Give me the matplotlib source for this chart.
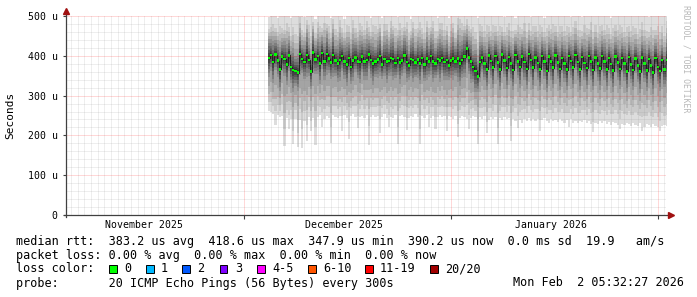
import numpy as np
import matplotlib.pyplot as plt
import matplotlib.dates as mdates
import matplotlib.transforms as mtransforms
from matplotlib.patches import Rectangle
from datetime import datetime, timedelta

# time range of the graph (90 days up to the moment it was drawn)
t_end = datetime(2026, 2, 2, 5, 32, 27)
t_begin = t_end - timedelta(days=90)
t_first = datetime(2025, 12, 4, 12, 0)   # first sample with data
step_hours = 8

# median rtt per step (microseconds)
rtt_median = [
    395, 402, 384, 403, 388, 366, 398, 392, 378, 401, 372, 364, 362, 358, 405, 392, 384, 402, 389, 360,
    408, 391, 399, 381, 407, 386, 404, 393, 383, 402, 388, 380, 390, 399, 385, 378, 395, 372, 388, 396,
    385, 384, 398, 386, 390, 403, 389, 380, 385, 391, 399, 378, 392, 386, 387, 395, 392, 382, 394, 383,
    388, 401, 384, 376, 392, 389, 383, 391, 381, 395, 378, 393, 386, 399, 386, 381, 392, 388, 395, 384,
    389, 376, 388, 393, 386, 393, 380, 390, 398, 419, 396, 385, 372, 362, 348, 384, 396, 381, 366, 401,
    387, 371, 399, 383, 365, 403, 388, 369, 397, 380, 364, 402, 386, 372, 398, 384, 367, 404, 389, 370,
    396, 382, 366, 400, 385, 362, 398, 386, 370, 401, 383, 367, 395, 381, 365, 399, 387, 371, 402, 384,
    366, 397, 382, 369, 400, 386, 364, 396, 380, 368, 399, 385, 366, 394, 379, 363, 398, 383, 367, 395,
    381, 361, 397, 378, 364, 393, 376, 360, 396, 380, 363, 392, 375, 358, 394, 372, 362, 390, 365, 390,
]

# fastest ping per step (bottom of the smoke)
rtt_low = [
    262, 258, 255, 225, 252, 246, 250, 173, 244, 215, 240, 178, 242, 172, 238, 168, 236, 185, 245, 210,
    243, 176, 247, 252, 222, 241, 249, 244, 180, 251, 247, 243, 250, 212, 252, 244, 192, 248, 253, 246,
    218, 245, 249, 243, 251, 175, 247, 252, 245, 249, 207, 246, 253, 244, 220, 247, 243, 251, 178, 248,
    252, 245, 214, 244, 250, 246, 253, 245, 178, 249, 244, 251, 222, 243, 250, 215, 246, 252, 245, 248,
    210, 250, 246, 241, 248, 195, 244, 250, 246, 241, 216, 243, 249, 245, 178, 246, 240, 248, 205, 238,
    245, 241, 247, 178, 243, 238, 246, 240, 244, 185, 240, 236, 218, 238, 232, 241, 237, 243, 235, 240,
    236, 242, 212, 239, 244, 236, 232, 240, 235, 238, 233, 240, 236, 231, 238, 220, 241, 232, 237, 230,
    236, 233, 239, 231, 235, 229, 208, 232, 228, 235, 231, 236, 229, 233, 227, 234, 230, 226, 215, 229,
    225, 232, 228, 224, 231, 227, 223, 230, 210, 222, 229, 225, 221, 228, 224, 220, 212, 223, 226, 224,
]

# slowest ping per step (top of the smoke, mostly above the graph)
rtt_high = [
    498, 512, 530, 505, 495, 540, 515, 502, 548, 510, 495, 535, 520, 503, 545, 512, 497, 528, 540, 506,
    518, 493, 536, 524, 499, 545, 511, 530, 496, 538, 520, 503, 547, 514, 492, 533, 525, 508, 550, 517,
    499, 539, 522, 505, 546, 513, 495, 530, 541, 507, 519, 494, 537, 526, 500, 544, 512, 531, 497, 539,
    521, 504, 548, 515, 493, 534, 524, 509, 549, 518, 500, 540, 523, 506, 545, 514, 496, 531, 542, 508,
    520, 495, 538, 527, 501, 545, 560, 540, 505, 536, 522, 505, 549, 516, 494, 535, 526, 510, 550, 519,
    501, 541, 524, 507, 546, 515, 497, 532, 543, 509, 521, 496, 539, 528, 502, 546, 513, 533, 498, 540,
    523, 506, 550, 517, 495, 536, 527, 511, 551, 520, 502, 542, 525, 508, 547, 516, 498, 533, 544, 510,
    522, 497, 540, 529, 503, 547, 514, 534, 499, 541, 524, 507, 551, 518, 496, 537, 528, 512, 552, 521,
    503, 543, 526, 509, 548, 517, 499, 534, 545, 511, 523, 498, 541, 530, 504, 548, 515, 535, 500, 542,
]

# spread of the middle half of the pings per step (u)
rtt_iqr = [
    95, 78, 106, 75, 85, 110, 72, 88, 102, 78, 82, 110, 75, 92, 106, 72, 85, 110, 78, 88,
    102, 72, 88, 106, 78, 92, 102, 72, 85, 110, 75, 92, 106, 72, 85, 110, 78, 88, 102, 75,
    82, 106, 78, 92, 102, 72, 88, 106, 75, 92, 102, 72, 85, 110, 78, 92, 106, 75, 85, 106,
    78, 88, 102, 72, 88, 110, 75, 92, 102, 72, 85, 106, 78, 92, 106, 75, 82, 110, 78, 88,
    102, 72, 88, 106, 75, 118, 110, 92, 102, 72, 85, 106, 78, 106, 78, 102, 75, 85, 102, 72,
    85, 106, 75, 88, 102, 72, 85, 106, 75, 88, 102, 72, 85, 106, 78, 92, 102, 72, 85, 106,
    75, 88, 102, 72, 88, 106, 75, 92, 102, 72, 85, 106, 78, 92, 102, 72, 85, 106, 75, 88,
    102, 72, 88, 106, 75, 92, 102, 72, 85, 106, 78, 92, 102, 72, 85, 106, 75, 88, 102, 72,
    88, 106, 75, 92, 102, 72, 85, 106, 78, 92, 102, 72, 85, 106, 75, 88, 102, 72, 88, 106,
]

# legend numbers
med_avg, med_max, med_min, med_now = 383.2, 418.6, 347.9, 390.2
med_sd, am_s = 0.0, 19.9
loss_avg, loss_max, loss_min, loss_now = 0.00, 0.00, 0.00, 0.00
loss_labels = ['0', '1', '2', '3', '4-5', '6-10', '11-19', '20/20']
loss_colors = ['#00ff00', '#00b8ff', '#0059ff', '#7e00ff', '#ff00ff', '#ff5500', '#ff0000', '#a10000']
y_ticks = [0, 100, 200, 300, 400, 500]
month_labels = ['November 2025', 'December 2025', 'January 2026']
month_label_dates = [datetime(2025, 11, 16), datetime(2025, 12, 16), datetime(2026, 1, 16)]
month_starts = [datetime(2025, 12, 1), datetime(2026, 1, 1), datetime(2026, 2, 1)]

# smoke shape: outer bands go from the quartiles to the extremes,
# inner bands from the median to the quartiles
frac_outer_lo = [1.0, 0.75, 0.52, 0.28]
frac_outer_hi = [1.0, 0.45, 0.28, 0.14]
frac_inner = [1.0, 0.8, 0.6, 0.42, 0.26, 0.12]

MONO = 'DejaVu Sans Mono'
W, H = 697, 297

fig = plt.figure(figsize=(W / 100, H / 100), dpi=100)
fig.patch.set_facecolor('white')
ax = fig.add_axes([66 / W, (H - 215) / H, 600 / W, 199 / H])

n = len(rtt_median)
x_edges = [mdates.date2num(t_first + timedelta(hours=step_hours * i)) for i in range(n + 1)]
med = np.array(rtt_median, float)
lo = np.array(rtt_low, float)
hi = np.array(rtt_high, float)
half = np.array(rtt_iqr, float) / 2
q1 = med - half
q3 = med + half


def ext(a):
    return np.append(a, a[-1])


# smoke, outer (light) bands first
for k in range(10):
    g = (190 / 10 * (10 - (k + 1)) + 50) / 255
    if k < 4:
        bottom = q1 - (q1 - lo) * frac_outer_lo[k]
        top = q3 + (hi - q3) * frac_outer_hi[k]
    else:
        bottom = med - half * frac_inner[k - 4]
        top = med + half * frac_inner[k - 4]
    ax.fill_between(x_edges, ext(bottom), ext(top), step='post', color=(g, g, g),
                    lw=0, antialiased=False, zorder=2)

# median line + loss coloured swath
ax.step(x_edges, ext(med), where='post', color='#202020', lw=0.7, zorder=3)
ax.fill_between(x_edges, ext(med - 3.2), ext(med + 3.2), step='post', color=loss_colors[0],
                lw=0, antialiased=False, zorder=4)

x0 = mdates.date2num(t_begin)
x1 = mdates.date2num(t_end)
ax.set_xlim(x0, x1)
ax.set_ylim(0, 500)

# grid
dot = (0, (1, 1))
for v in range(20, 500, 20):
    if v % 100:
        ax.axhline(v, color='#909090', alpha=0.3, lw=0.72, ls=dot, zorder=5)
d = datetime(2025, 11, 5)
while d < t_end:
    if d not in month_starts:
        ax.axvline(mdates.date2num(d), color='#909090', alpha=0.3, lw=0.72, ls=dot, zorder=5)
    d += timedelta(days=1)
for v in y_ticks[1:]:
    ax.axhline(v, color='#ff0000', alpha=0.3, lw=0.72, ls=dot, zorder=5)
for d in month_starts:
    ax.axvline(mdates.date2num(d), color='#ff0000', alpha=0.3, lw=0.72, ls=dot, zorder=5)

for s in ax.spines.values():
    s.set_visible(False)

ax.set_yticks(y_ticks)
ax.set_yticklabels([f'{v} u' if v else '0' for v in y_ticks], family=MONO, fontsize=7.1)
ax.set_xticks([mdates.date2num(d) for d in month_starts])
ax.set_xticklabels([])
ax.tick_params(axis='y', length=2, pad=4, color='#404040')
ax.tick_params(axis='x', length=3, color='#404040')

# axes with arrows
ax.plot([-0.004, 1.008], [0, 0], color='#404040', lw=0.9, transform=ax.transAxes, clip_on=False, zorder=6)
ax.plot([0, 0], [-0.012, 1.02], color='#404040', lw=0.9, transform=ax.transAxes, clip_on=False, zorder=6)
ax.plot([1.009], [0], marker='>', ms=4, color='#a01010', transform=ax.transAxes, clip_on=False, zorder=7)
ax.plot([0], [1.026], marker='^', ms=4, color='#a01010', transform=ax.transAxes, clip_on=False, zorder=7)

# month labels
blend = mtransforms.blended_transform_factory(ax.transData, fig.transFigure)
for lab, d in zip(month_labels, month_label_dates):
    ax.text(mdates.date2num(d), 1 - 225 / H, lab, transform=blend, ha='center', va='center',
            family=MONO, fontsize=7.1)

fig.text(10 / W, 1 - 115 / H, 'Seconds', rotation=90, ha='center', va='center', family=MONO, fontsize=8)
fig.text(686 / W, 1 - 5 / H, 'RRDTOOL / TOBI OETIKER', rotation=270, ha='center', va='top',
         family=MONO, fontsize=5.9, color='#b8b8b8')

# legend
fs = 8.5
line1 = (f'median rtt:  {med_avg:.1f} us avg  {med_max:.1f} us max  {med_min:.1f} us min  '
         f'{med_now:.1f} us now  {med_sd:.1f} ms sd  {am_s:.1f}   am/s')
line2 = (f'packet loss: {loss_avg:.2f} % avg  {loss_max:.2f} % max  {loss_min:.2f} % min  '
         f'{loss_now:.2f} % now')
fig.text(16 / W, 1 - 241 / H, line1, ha='left', va='center', family=MONO, fontsize=fs)
fig.text(16 / W, 1 - 255 / H, line2, ha='left', va='center', family=MONO, fontsize=fs)
fig.text(16 / W, 1 - 269 / H, 'loss color:', ha='left', va='center', family=MONO, fontsize=fs)
box_x = [109, 146, 182, 220, 257, 308, 365, 430]
for bx, lab, col in zip(box_x, loss_labels, loss_colors):
    fig.patches.append(Rectangle((bx / W, (H - 273) / H), 7.5 / W, 8 / H, transform=fig.transFigure,
                                 facecolor=col, edgecolor='black', lw=0.7))
    fig.text((bx + 15) / W, 1 - 269 / H, lab, ha='left', va='center', family=MONO, fontsize=fs)
fig.text(16 / W, 1 - 283 / H, 'probe:       20 ICMP Echo Pings (56 Bytes) every 300s',
         ha='left', va='center', family=MONO, fontsize=fs)
fig.text(513 / W, 1 - 283 / H, 'Mon Feb  2 05:32:27 2026', ha='left', va='center', family=MONO, fontsize=fs)

fig.savefig('out.png', dpi=100)
